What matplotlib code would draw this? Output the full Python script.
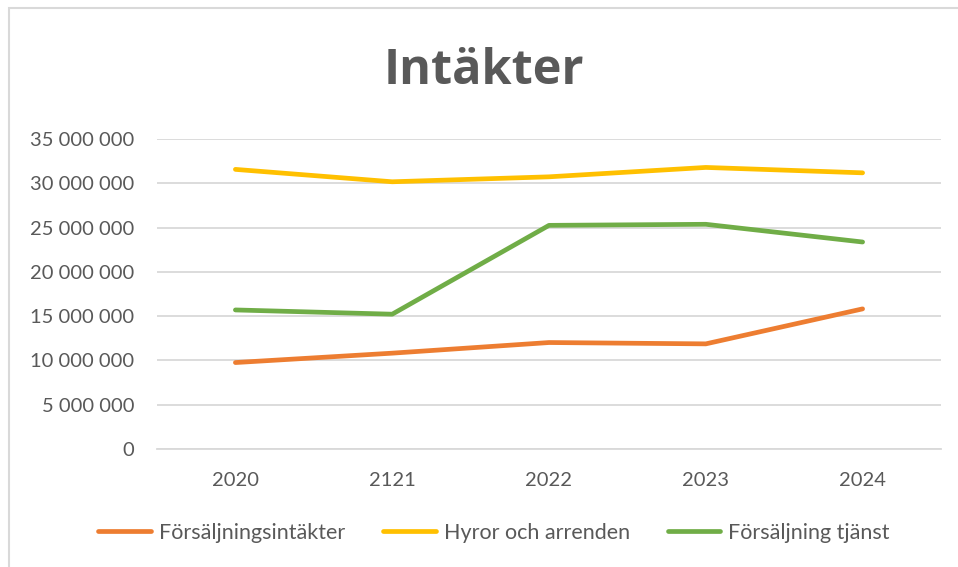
import matplotlib
matplotlib.use("Agg")
import matplotlib.pyplot as plt
from matplotlib.ticker import FuncFormatter

years = ["2020", "2121", "2022", "2023", "2024"]
forsaljningsintakter = [9_760_000, 10_820_000, 12_020_000, 11_870_000, 15_820_000]
hyror_och_arrenden = [31_570_000, 30_170_000, 30_730_000, 31_790_000, 31_180_000]
forsaljning_tjanst = [15_700_000, 15_220_000, 25_250_000, 25_370_000, 23_370_000]

series = [
    ("Försäljningsintäkter", forsaljningsintakter, "#ED7D31"),
    ("Hyror och arrenden", hyror_och_arrenden, "#FFC000"),
    ("Försäljning tjänst", forsaljning_tjanst, "#70AD47"),
]

plt.rcParams["font.family"] = ["Lato", "DejaVu Sans"]
text_grey = "#595959"

W, H = 958, 567
fig = plt.figure(figsize=(W / 100, H / 100), dpi=100)
fig.patch.set_facecolor("white")

# chart border (runs off the right and bottom edges)
border = plt.Rectangle((9 / W, -0.05), 1.2, 1 - 8 / H + 0.05, transform=fig.transFigure,
                       fill=False, edgecolor="#D9D9D9", linewidth=1.5)
fig.add_artist(border)

left, right, top, bottom = 157, 941, 139, 449
ax = fig.add_axes([left / W, 1 - bottom / H, (right - left) / W, (bottom - top) / H])

x = list(range(len(years)))
for name, vals, col in series:
    ax.plot(x, vals, color=col, linewidth=3.4, label=name, solid_capstyle="round",
            solid_joinstyle="round", zorder=3)

ax.set_xlim(-0.5, len(years) - 0.5)
ax.set_ylim(0, 35_000_000)
ax.set_yticks(range(0, 35_000_001, 5_000_000))
ax.yaxis.set_major_formatter(FuncFormatter(lambda v, p: f"{int(v):,}".replace(",", " ")))
ax.set_xticks(x)
ax.set_xticklabels(years)

ax.grid(axis="y", color="#D9D9D9", linewidth=1.3)
ax.set_axisbelow(True)
for s in ["top", "right", "left"]:
    ax.spines[s].set_visible(False)
ax.spines["bottom"].set_color("#D9D9D9")
ax.spines["bottom"].set_linewidth(1.3)
ax.tick_params(axis="both", length=0, labelsize=14.5, colors=text_grey)
ax.tick_params(axis="y", pad=16.5)
ax.tick_params(axis="x", pad=16.5)

fig.text(484 / W, 1 - 72 / H, "Intäkter", ha="center", va="center",
         fontsize=35, fontweight="bold", color=text_grey, family=["Open Sans", "DejaVu Sans"])

leg = fig.legend(loc="center", bbox_to_anchor=(494 / W, 1 - 533 / H), ncol=3, frameon=False,
                 fontsize=15.5, handlelength=2.45, handletextpad=0.38, columnspacing=1.75)
for t in leg.get_texts():
    t.set_color(text_grey)

fig.savefig("out.png", dpi=100)
